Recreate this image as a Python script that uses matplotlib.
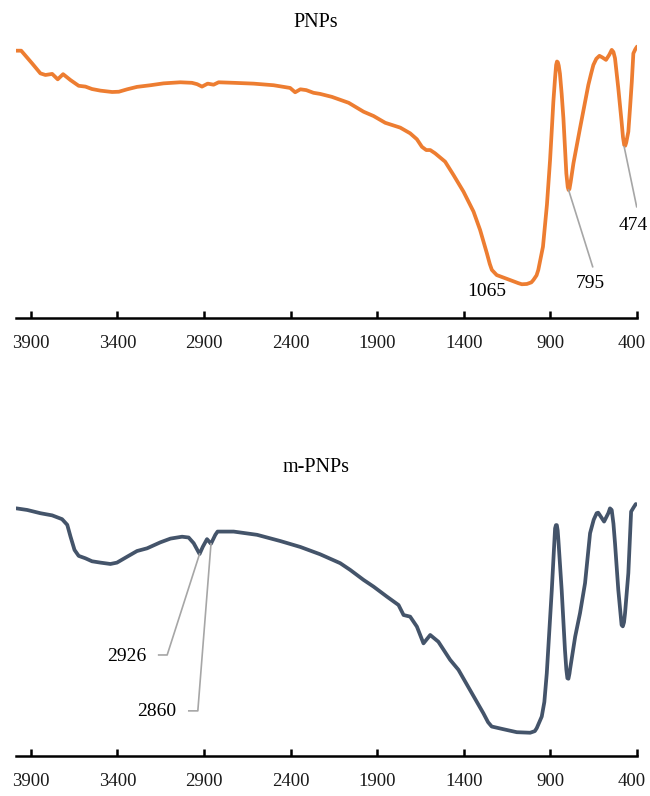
import numpy as np
import matplotlib
matplotlib.use('Agg')
import matplotlib.pyplot as plt
from matplotlib.transforms import ScaledTranslation

plt.rcParams['font.family'] = ['Liberation Serif', 'DejaVu Serif']

### FTIR spectra : PNPs (top) and m-PNPs (bottom)
##################################################

wn_pnp = [3984, 3956, 3893, 3845, 3816, 3777, 3745, 3714, 3671, 3624, 3585, 3547,
          3498, 3431, 3392, 3344, 3287, 3210, 3134, 3037, 2970, 2940, 2912, 2879,
          2845, 2816, 2729, 2614, 2498, 2403, 2374, 2344, 2310, 2268, 2230, 2162,
          2065, 1979, 1921, 1854, 1767, 1710, 1671, 1642, 1617, 1594, 1566, 1508,
          1460, 1402, 1344, 1306, 1267, 1250, 1238, 1210, 1143, 1085, 1065, 1036,
          1010, 998, 980, 970, 943, 920, 902, 890, 883, 873, 867, 862, 857, 852,
          845, 835, 825, 815, 808, 800, 795, 790, 783, 767, 729, 681, 665, 652,
          635, 617, 600, 579, 560, 546, 536, 527, 508, 489, 481, 474, 468, 462,
          457, 450, 440, 430, 421, 410, 400]
t_pnp = [99.0, 99.0, 94.3, 90.6, 90.0, 90.4, 88.4, 90.3, 88.1, 86.0, 85.7, 84.8,
         84.2, 83.7, 83.8, 84.7, 85.6, 86.2, 86.9, 87.3, 87.1, 86.6, 85.7, 86.8,
         86.4, 87.3, 87.1, 86.8, 86.2, 85.2, 83.6, 84.7, 84.4, 83.4, 83.0, 81.9,
         79.7, 76.4, 74.8, 72.3, 70.5, 68.4, 66.2, 63.4, 62.2, 62.2, 61.0, 57.9,
         53.0, 46.8, 39.4, 32.6, 24.0, 20.0, 17.8, 15.9, 14.3, 12.9, 12.5, 12.6,
         13.2, 14.1, 15.8, 17.8, 26.4, 42.0, 58.5, 72.0, 80.1, 89.0, 93.7, 95.0,
         94.7, 93.5, 90.5, 83.0, 74.0, 62.0, 53.5, 48.5, 47.4, 47.8, 50.4, 57.3,
         70.3, 86.3, 90.5, 93.7, 96.0, 97.1, 96.5, 95.6, 97.5, 99.3, 98.5, 96.2,
         85.1, 72.7, 67.0, 64.1, 63.8, 65.0, 66.7, 69.0, 78.0, 87.5, 98.0, 99.5,
         100.5]

wn_mpnp = [3984, 3921, 3845, 3777, 3720, 3690, 3671, 3648, 3624, 3585, 3547, 3498,
           3441, 3403, 3344, 3287, 3229, 3153, 3094, 3027, 2989, 2960, 2926, 2907,
           2883, 2860, 2835, 2822, 2729, 2594, 2460, 2344, 2230, 2114, 2056, 1979,
           1921, 1844, 1777, 1748, 1710, 1671, 1633, 1594, 1547, 1479, 1431, 1364,
           1287, 1260, 1239, 1171, 1094, 1017, 990, 979, 950, 935, 921, 892, 880,
           873, 868, 863, 858, 854, 835, 816, 808, 802, 796, 790, 787, 757, 729,
           700, 671, 650, 633, 624, 590, 565, 556, 546, 536, 527, 508, 489, 482,
           475, 469, 450, 434, 420, 407]
t_mpnp = [91.7, 91.1, 89.9, 89.1, 87.7, 85.6, 81.2, 76.3, 74.1, 73.2, 72.1, 71.6,
          71.1, 71.6, 73.8, 75.9, 76.9, 79.1, 80.5, 81.2, 80.9, 78.8, 74.8, 77.5,
          80.3, 78.6, 81.9, 83.1, 83.1, 81.9, 79.6, 77.4, 74.7, 71.4, 68.9, 65.2,
          62.7, 59.0, 55.9, 52.2, 51.6, 47.9, 41.7, 44.8, 42.3, 35.6, 31.9, 24.4,
          15.8, 12.5, 10.9, 9.9, 8.8, 8.6, 9.2, 10.3, 14.6, 20.0, 30.6, 61.5, 76.0,
          84.3, 85.5, 85.5, 83.5, 80.0, 61.5, 39.3, 32.0, 28.8, 28.6, 30.5, 31.9,
          44.2, 52.9, 64.0, 82.5, 87.5, 89.9, 90.1, 86.8, 90.0, 91.7, 91.1, 86.0,
          78.8, 61.5, 48.5, 48.0, 49.5, 52.9, 67.7, 90.5, 92.0, 93.3]

ticks = [3900, 3400, 2900, 2400, 1900, 1400, 900, 400]

orange = '#ED7D31'
navy = '#44546A'
gris = '#A6A6A6'


def mise_en_forme(ax):
    ax.set_xlim(3986, 400)
    ax.set_ylim(0, 102)
    for s in ['top', 'left', 'right']:
        ax.spines[s].set_visible(False)
    ax.spines['bottom'].set_linewidth(1.8)
    ax.set_yticks([])
    ax.set_xticks(ticks)
    ax.set_xticklabels([str(t) for t in ticks])
    ax.tick_params(axis='x', direction='in', length=5, width=1.8,
                   labelsize=13.5, pad=12, labelcolor='#1a1a1a')
    ax.patch.set_visible(False)
    # le dernier label (400) est décalé pour rester dans la figure
    lab = ax.xaxis.get_major_ticks()[-1].label1
    lab.set_transform(lab.get_transform() +
                      ScaledTranslation(-5 / 100, 0, fig.dpi_scale_trans))


fig = plt.figure(figsize=(6.5, 7.96), dpi=100)

ax1 = fig.add_axes([0.0246, 0.6005, 0.9554, 0.346])
ax1.plot(wn_pnp, t_pnp, color=orange, lw=2.7, solid_joinstyle='round',
         solid_capstyle='round')
mise_en_forme(ax1)
ax1.text(1267, 9.7, '1065', ha='center', va='center', fontsize=14)
ax1.plot([795, 656], [47.4, 19.0], color=gris, lw=1.2)
ax1.text(667, 12.9, '795', ha='center', va='center', fontsize=14)
ax1.plot([474, 402], [63.4, 41.2], color=gris, lw=1.2)
ax1.text(423, 34.4, '474', ha='center', va='center', fontsize=14)

ax2 = fig.add_axes([0.0246, 0.0503, 0.9554, 0.346])
ax2.plot(wn_mpnp, t_mpnp, color=navy, lw=2.7, solid_joinstyle='round',
         solid_capstyle='round')
mise_en_forme(ax2)
ax2.plot([3162, 3113, 2926], [37.4, 37.4, 74.8], color=gris, lw=1.2)
ax2.text(3345, 36.8, '2926', ha='center', va='center', fontsize=14)
ax2.plot([2988, 2936, 2860], [16.7, 16.7, 78.6], color=gris, lw=1.2)
ax2.text(3171, 16.4, '2860', ha='center', va='center', fontsize=14)

fig.text(0.486, 0.972, 'PNPs', ha='center', va='center', fontsize=14.5)
fig.text(0.486, 0.413, 'm-PNPs', ha='center', va='center', fontsize=14.5)

fig.savefig('out.png', dpi=100)
